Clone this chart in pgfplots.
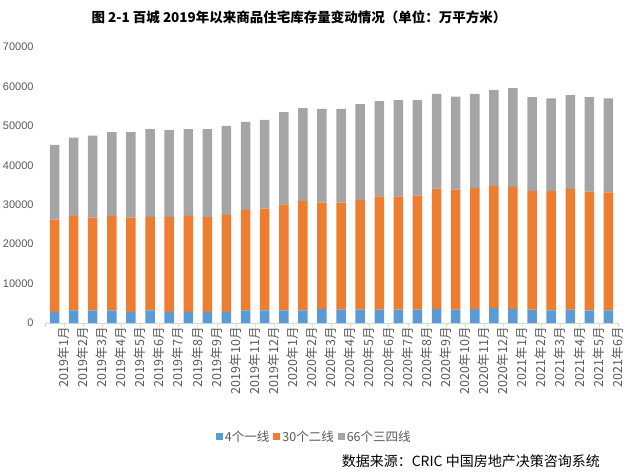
\documentclass[border=0pt]{standalone}
\usepackage{fontspec}
\usepackage{pgfplots}
\usepackage{pgfplotstable}
\pgfplotsset{compat=1.18}
\newfontfamily\cjk{Noto Sans CJK SC}
\newfontfamily\num{Liberation Sans}
\definecolor{cblue}{HTML}{5B9BD5}
\definecolor{corange}{HTML}{ED7D31}
\definecolor{cgray}{HTML}{A5A5A5}
\definecolor{ctxt}{HTML}{595959}
\definecolor{caxis}{HTML}{D9D9D9}
\pgfplotstableread{
x a b c
0 2800 23400 19000
1 3200 24000 19800
2 3200 23500 20800
3 3200 24000 21200
4 2800 23900 21700
5 3200 23700 22300
6 2800 24100 22100
7 2800 24400 22000
8 2800 24100 22300
9 2800 24600 22600
10 3200 25500 22300
11 3200 25800 22500
12 3200 26900 23400
13 3200 27700 23600
14 3500 27000 23800
15 3400 27150 23750
16 3400 27800 24300
17 3400 28700 24200
18 3400 28700 24400
19 3400 28900 24200
20 3500 30600 24000
21 3400 30400 23600
22 3500 30800 23800
23 3800 31000 24300
24 3600 30900 25100
25 3400 30100 23800
26 3200 30300 23500
27 3400 30600 23800
28 3200 30100 24000
29 3200 29900 23900
}\data
\begin{document}
\begin{tikzpicture}
\useasboundingbox (0pt,0pt) rectangle (631pt,471pt);
\node[font=\cjk\bfseries\fontsize{13.5}{13.5}\selectfont, anchor=center] at (299pt,454pt) {图 2-1 百城 2019年以来商品住宅库存量变动情况（单位：万平方米）};
\node[font=\cjk\fontsize{14}{14}\selectfont, anchor=east, inner sep=0pt] at (600pt,10pt) {数据来源：CRIC 中国房地产决策咨询系统};
\begin{axis}[
  at={(45pt,148pt)}, anchor=south west,
  scale only axis, width=573pt, height=276pt,
  ybar stacked, bar width=9.5pt,
  xmin=-0.5, xmax=29.5, ymin=0, ymax=70000,
  axis x line*=bottom,
  axis y line*=left,
  y axis line style={draw=none},
  x axis line style={caxis, line width=0.8pt, -},
  xtick={0,...,29},
  xticklabels={2019年1月,2019年2月,2019年3月,2019年4月,2019年5月,2019年6月,2019年7月,2019年8月,2019年9月,2019年10月,2019年11月,2019年12月,2020年1月,2020年2月,2020年3月,2020年4月,2020年5月,2020年6月,2020年7月,2020年8月,2020年9月,2020年10月,2020年11月,2020年12月,2021年1月,2021年2月,2021年3月,2021年4月,2021年5月,2021年6月},
  major x tick style={draw=none},
  minor xtick={-0.5,0.5,...,29.5},
  minor tick length=4pt,
  minor x tick style={caxis, line width=0.8pt},
  ytick style={draw=none},
  tick align=outside,
  xticklabel style={rotate=90, anchor=east, font=\cjk\fontsize{12.5}{12.5}\selectfont, text=ctxt, inner sep=0pt, yshift=-9pt},
  ytick={0,10000,...,70000},
  yticklabel style={font=\num\fontsize{11}{11}\selectfont, text=ctxt, inner sep=0pt, xshift=-7pt},
  /pgf/number format/assume math mode=true,
  /pgf/number format/1000 sep={},
  scaled y ticks=false,
  legend columns=3,
  legend style={at={(0.47,-0.413)}, anchor=center, draw=none, font=\cjk\fontsize{12.5}{12.5}\selectfont, text=ctxt,
    /tikz/every even column/.append style={column sep=2pt}, inner sep=0pt},
  legend image code/.code={\fill[#1] (0pt,-3.5pt) rectangle (7pt,3.5pt);},
  legend cell align=left,
]
\addplot[fill=cblue, draw=none] table[x=x,y=a]{\data};
\addplot[fill=corange, draw=none] table[x=x,y=b]{\data};
\addplot[fill=cgray, draw=none] table[x=x,y=c]{\data};
\legend{4个一线,30个二线,66个三四线}
\end{axis}
\end{tikzpicture}
\end{document}
